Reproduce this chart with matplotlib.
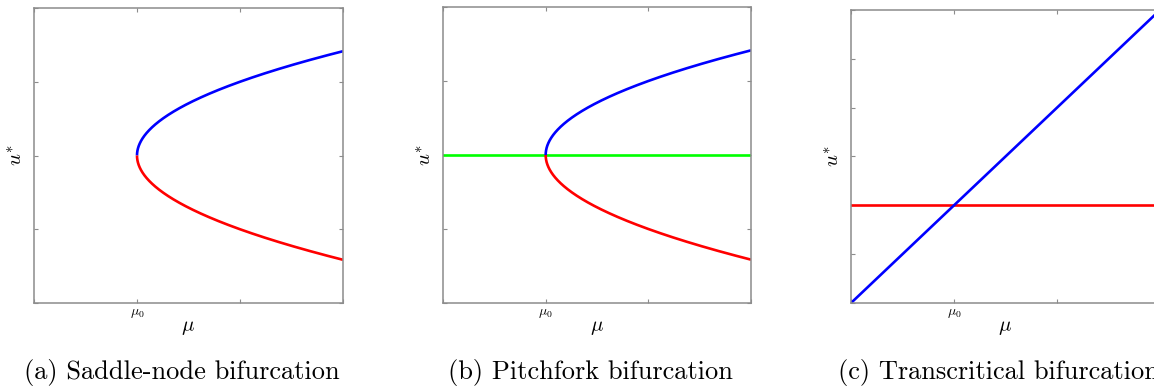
import numpy as np
import matplotlib
matplotlib.use("Agg")
import matplotlib.pyplot as plt

plt.rcParams['mathtext.fontset'] = 'cm'

# parametros de las formas normales
mu_lim = [0.0, 3.0]          # rango del parametro mu
mu0 = 1.0                    # punto de bifurcacion
u_lim_ab = [-2.0, 2.0]       # rango de u* en (a) y (b)
u_lim_c = [-2.0, 4.0]        # rango de u* en (c)
pendiente_c = 2.0            # pendiente de la rama transcritica
u_trivial = 0.0              # solucion trivial u* = 0

x_ticks = [0.0, mu0, 2.0, 3.0]
x_tick_labels = ['', r'$\mu_0$', '', '']
yticks_ab = [-2, -1, 0, 1, 2]
yticks_c = [-2, -1, 0, 1, 2, 3, 4]

titulos = ['(a) Saddle-node bifurcation',
           '(b) Pitchfork bifurcation',
           '(c) Transcritical bifurcation']

GRIS = '#8c8c8c'
LW = 1.9

fig = plt.figure(figsize=(11.54, 3.87), dpi=100)
W, H = 1154.0, 387.0
cajas = [(34, 8, 343, 303), (443, 7, 751, 303), (851, 10, 1160, 303)]
ejes = []
for (x0, y0, x1, y1) in cajas:
    ax = fig.add_axes([x0 / W, 1 - y1 / H, (x1 - x0) / W, (y1 - y0) / H])
    ejes.append(ax)


def estilo(ax, yticks, ylim, titulo, caja):
    ax.set_xlim(mu_lim)
    ax.set_ylim(ylim)
    ax.set_xticks(x_ticks)
    ax.set_xticklabels(x_tick_labels, fontsize=10)
    ax.set_yticks(yticks)
    ax.set_yticklabels([])
    ax.tick_params(direction='in', length=3, width=0.8, color=GRIS,
                   top=True, right=True, pad=2)
    for s in ax.spines.values():
        s.set_color(GRIS)
        s.set_linewidth(1.1)
    ax.set_xlabel(r'$\mu$', fontsize=15, labelpad=-2)
    ax.set_ylabel(r'$u^{*}$', fontsize=15, labelpad=4)
    # pie de figura centrado un poco a la izquierda del eje
    xc = ((caja[0] + caja[2]) / 2 - 7) / W
    fig.text(xc, 1 - 373 / H, titulo, ha='center', va='center',
             fontsize=19, family='cmr10')


# ramas de la parabola u* = +-sqrt(mu - mu0)
mu_r = mu0 + (mu_lim[1] - mu0) * np.linspace(0, 1, 400) ** 2
rama = np.sqrt(mu_r - mu0)

# (a) silla-nodo
ax = ejes[0]
ax.plot(mu_r, rama, color='#0000ff', lw=LW, solid_capstyle='butt')
ax.plot(mu_r, -rama, color='#ff0000', lw=LW, solid_capstyle='butt')
estilo(ax, yticks_ab, u_lim_ab, titulos[0], cajas[0])

# (b) tridente
ax = ejes[1]
ax.plot(mu_lim, [u_trivial, u_trivial], color='#00ff00', lw=LW)
ax.plot(mu_r, rama, color='#0000ff', lw=LW, solid_capstyle='butt')
ax.plot(mu_r, -rama, color='#ff0000', lw=LW, solid_capstyle='butt')
estilo(ax, yticks_ab, u_lim_ab, titulos[1], cajas[1])

# (c) transcritica
ax = ejes[2]
mu_c = np.array(mu_lim)
ax.plot(mu_c, [u_trivial, u_trivial], color='#ff0000', lw=LW)
ax.plot(mu_c, pendiente_c * (mu_c - mu0), color='#0000ff', lw=LW)
estilo(ax, yticks_c, u_lim_c, titulos[2], cajas[2])

fig.savefig('out.png', dpi=100)
